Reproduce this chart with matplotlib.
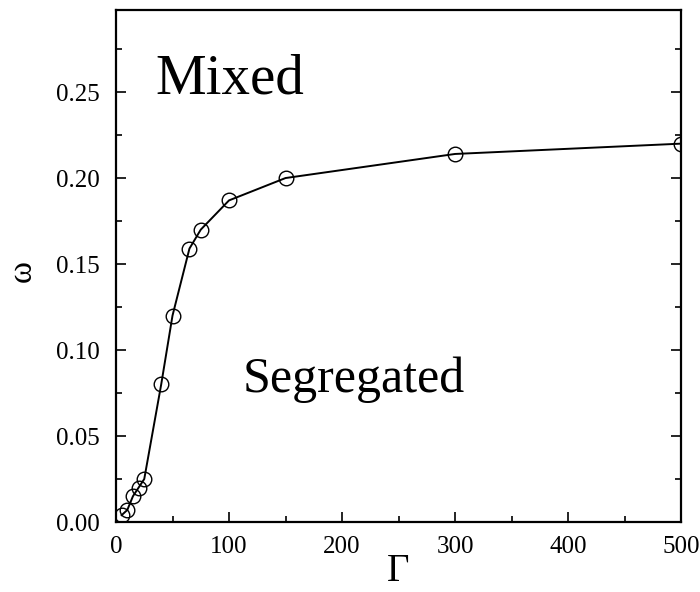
import numpy as np
import matplotlib.pyplot as plt
from matplotlib.ticker import MultipleLocator

# data
gamma = [5, 10, 15, 20, 25, 40, 50, 65, 75, 100, 150, 300, 500]
omega = [0.004, 0.007, 0.015, 0.020, 0.025, 0.080, 0.120, 0.159, 0.170,
         0.187, 0.200, 0.214, 0.220]

xticks = [0, 100, 200, 300, 400, 500]
yticks = [0.00, 0.05, 0.10, 0.15, 0.20, 0.25]

plt.rcParams['font.family'] = ['Liberation Serif', 'DejaVu Serif']

fig = plt.figure(figsize=(7.0, 5.92), dpi=100)
ax = fig.add_axes([0.1657, 0.1182, 0.8073, 0.8649])

ax.plot(gamma, omega, '-', color='black', lw=1.4, marker='o', ms=10.5,
        mfc='none', mec='black', mew=1.0)

ax.set_xlim(0, 500)
ax.set_ylim(0, 0.2977)
ax.set_xticks(xticks)
ax.set_yticks(yticks)
ax.set_yticklabels(['%.2f' % v for v in yticks])
ax.xaxis.set_minor_locator(MultipleLocator(50))
ax.yaxis.set_minor_locator(MultipleLocator(0.025))
ax.tick_params(which='both', direction='in', right=True, top=False,
               labelsize=18, width=1.2)
ax.tick_params(which='major', length=7)
ax.tick_params(which='minor', length=4)
ax.tick_params(axis='y', pad=12)
ax.tick_params(axis='x', pad=10)
for s in ax.spines.values():
    s.set_linewidth(1.6)

ax.set_xlabel('Γ', fontsize=28, va='center')
ax.xaxis.set_label_coords(0.5, -0.097)
ax.set_ylabel('ω', fontsize=24, va='center')
ax.yaxis.set_label_coords(-0.166, 0.49)

ax.text(34.5, 0.2494, 'Mixed', fontsize=41, ha='left', va='baseline')
ax.text(210.5, 0.0756, 'Segregated', fontsize=36, ha='center',
        va='baseline')

fig.savefig('out.png', dpi=100)
